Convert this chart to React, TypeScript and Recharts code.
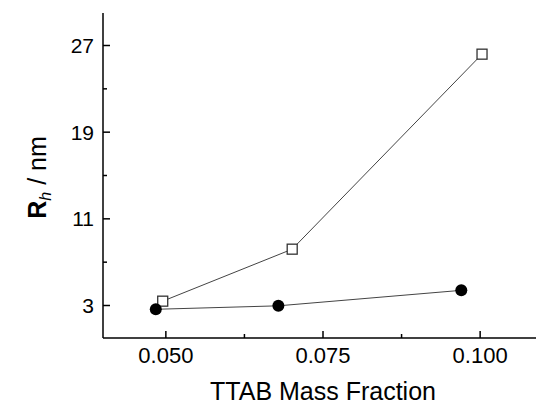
import React from "react";
import { LineChart, Line, XAxis, YAxis } from "recharts";

// micelle size vs TTAB mass fraction
const squareX = [0.0495, 0.0701, 0.1003];
const squareRh = [3.4, 8.2, 26.2];
const circleX = [0.0484, 0.0679, 0.097];
const circleRh = [2.65, 2.97, 4.4];

const xTicks = [0.05, 0.0625, 0.075, 0.0875, 0.1];
const xMajor = [0.05, 0.075, 0.1];
const yTicks = [3, 7, 11, 15, 19, 23, 27];
const yMajor = [3, 11, 19, 27];

const squareData = squareX.map((x, i) => ({ x, rh: squareRh[i] }));
const circleData = circleX.map((x, i) => ({ x, rh: circleRh[i] }));

const FONT = '"Liberation Sans", Arial, sans-serif';

const XTick = ({ x, y, payload }: any) => {
  const major = xMajor.some((v) => Math.abs(v - payload.value) < 1e-9);
  return (
    <g>
      <line x1={x} y1={y} x2={x} y2={y - (major ? 7 : 4)} stroke="#000" strokeWidth={1.5} />
      {major && (
        <text x={x} y={y + 25} textAnchor="middle" fontSize={22} fill="#000" fontFamily={FONT}>
          {payload.value.toFixed(3)}
        </text>
      )}
    </g>
  );
};

const YTick = ({ x, y, payload }: any) => {
  const major = yMajor.includes(payload.value);
  return (
    <g>
      <line x1={x} y1={y} x2={x + (major ? 7 : 4)} y2={y} stroke="#000" strokeWidth={1.5} />
      {major && (
        <text x={x - 9} y={y + 7.5} textAnchor="end" fontSize={21} fill="#000" fontFamily={FONT}>
          {payload.value}
        </text>
      )}
    </g>
  );
};

const SquareDot = ({ cx, cy }: any) => (
  <rect x={cx - 5} y={cy - 5} width={10} height={10} fill="#fff" stroke="#333" strokeWidth={1.3} />
);

const CircleDot = ({ cx, cy }: any) => <circle cx={cx} cy={cy} r={6} fill="#000" />;

const YLabel = ({ viewBox }: any) => {
  const cx = viewBox.x + 46;
  const cy = viewBox.y + viewBox.height / 2 + 2;
  return (
    <text
      x={cx}
      y={cy}
      transform={`rotate(-90, ${cx}, ${cy})`}
      textAnchor="middle"
      fontSize={25}
      fill="#000"
      fontFamily={FONT}
    >
      <tspan fontWeight="bold">R</tspan>
      <tspan fontStyle="italic" fontSize={16} dy={5}>h</tspan>
      <tspan dy={-5}> / nm</tspan>
    </text>
  );
};

const XLabel = ({ viewBox }: any) => (
  <text
    x={viewBox.x + viewBox.width / 2}
    y={viewBox.y + 62}
    textAnchor="middle"
    fontSize={25}
    fill="#000"
    fontFamily={FONT}
  >
    TTAB Mass Fraction
  </text>
);

export default function App() {
  return (
    <div
      style={{
        position: "absolute",
        left: 0,
        top: 0,
        width: 536,
        height: 405,
        overflow: "hidden",
        background: "#fff",
      }}
    >
      <LineChart width={560} height={405} margin={{ top: 13, right: 17, left: 0, bottom: 0 }}>
        <XAxis
          dataKey="x"
          type="number"
          domain={[0.04, 0.11]}
          ticks={xTicks}
          interval={0}
          height={67}
          tickSize={0}
          tickMargin={0}
          tickLine={false}
          tick={<XTick />}
          axisLine={{ stroke: "#000", strokeWidth: 1.5 }}
          label={{ content: XLabel }}
          allowDataOverflow
        />
        <YAxis
          dataKey="rh"
          type="number"
          domain={[0, 30]}
          ticks={yTicks}
          interval={0}
          width={103}
          tickSize={0}
          tickMargin={0}
          tickLine={false}
          tick={<YTick />}
          axisLine={{ stroke: "#000", strokeWidth: 1.5 }}
          label={{ content: YLabel }}
          allowDataOverflow
        />
        <Line
          data={squareData}
          dataKey="rh"
          stroke="#444"
          strokeWidth={1}
          dot={<SquareDot />}
          activeDot={false}
          isAnimationActive={false}
        />
        <Line
          data={circleData}
          dataKey="rh"
          stroke="#444"
          strokeWidth={1}
          dot={<CircleDot />}
          activeDot={false}
          isAnimationActive={false}
        />
      </LineChart>
    </div>
  );
}
